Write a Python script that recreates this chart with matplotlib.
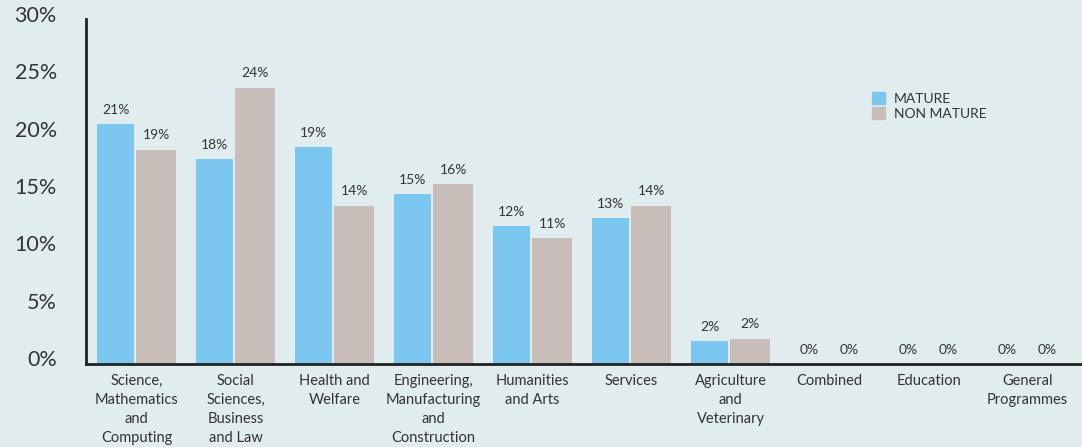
import matplotlib
matplotlib.use('Agg')
import matplotlib.pyplot as plt
import matplotlib.transforms as mtransforms
from matplotlib.patches import Patch
import numpy as np

# share of students per field of study
categories = ['Science,\nMathematics\nand\nComputing', 'Social\nSciences,\nBusiness\nand Law',
              'Health and\nWelfare', 'Engineering,\nManufacturing\nand\nConstruction',
              'Humanities\nand Arts', 'Services', 'Agriculture\nand\nVeterinary',
              'Combined', 'Education', 'General\nProgrammes']
mature = [20.9, 17.9, 18.9, 14.8, 12.0, 12.7, 2.0, 0, 0, 0]
non_mature = [18.7, 24.1, 13.8, 15.7, 11.0, 13.8, 2.2, 0, 0, 0]
yticks = [0, 5, 10, 15, 20, 25, 30]

BG = '#e1ecee'
C_MATURE = '#7bc7ef'
C_NON = '#c8bdb8'
TXT = '#333333'

plt.rcParams['font.family'] = ['Lato', 'DejaVu Sans']

fig = plt.figure(figsize=(10.82, 4.47), dpi=100, facecolor=BG)
W, H = 1082, 447
ax = fig.add_axes([86 / W, (H - 364) / H, (W - 86) / W, (364 - 19) / H])
ax.set_facecolor(BG)

x = np.arange(len(categories))
w1, w2, gap = 0.375, 0.40, 0.02
left = x - (w1 + w2 + gap) / 2
b1 = ax.bar(left, mature, width=w1, align='edge', color=C_MATURE, label='MATURE')
b2 = ax.bar(left + w1 + gap, non_mature, width=w2, align='edge', color=C_NON, label='NON MATURE')

for bars, vals in ((b1, mature), (b2, non_mature)):
    for rect, v in zip(bars, vals):
        ax.annotate('{:.0f}%'.format(v), (rect.get_x() + rect.get_width() / 2, v),
                    xytext=(0, 6), textcoords='offset points', ha='center', va='bottom',
                    fontsize=10, color=TXT)

ax.set_xlim(-0.51, 9.55)
ax.set_ylim(0, 30.1)

ax.set_xticks(x)
ax.set_xticklabels(categories, fontsize=10.5, color=TXT, linespacing=1.45, va='top')
ax.set_yticks(yticks)
ax.set_yticklabels(['{}%'.format(t) for t in yticks], fontsize=15.5, color=TXT)
ax.tick_params(axis='both', length=0)
ax.tick_params(axis='x', pad=7)
ax.tick_params(axis='y', pad=21)
# nudge the percentage labels up a little
shift = mtransforms.ScaledTranslation(0, 6 / 100, fig.dpi_scale_trans)
for lab in ax.get_yticklabels():
    lab.set_transform(lab.get_transform() + shift)

for s in ('top', 'right'):
    ax.spines[s].set_visible(False)
for s in ('left', 'bottom'):
    ax.spines[s].set_color('#222222')
    ax.spines[s].set_linewidth(2.0)

handles = [Patch(color=C_MATURE, label='MATURE'), Patch(color=C_NON, label='NON MATURE')]
leg = fig.legend(handles=handles, loc='upper left', bbox_to_anchor=(866 / W, 1 - 86 / H),
                 frameon=False, fontsize=10, handlelength=1.0, handleheight=1.0,
                 handletextpad=0.6, labelspacing=0.15, borderaxespad=0)
for t in leg.get_texts():
    t.set_color(TXT)

fig.savefig('out.png', dpi=100, facecolor=BG)
